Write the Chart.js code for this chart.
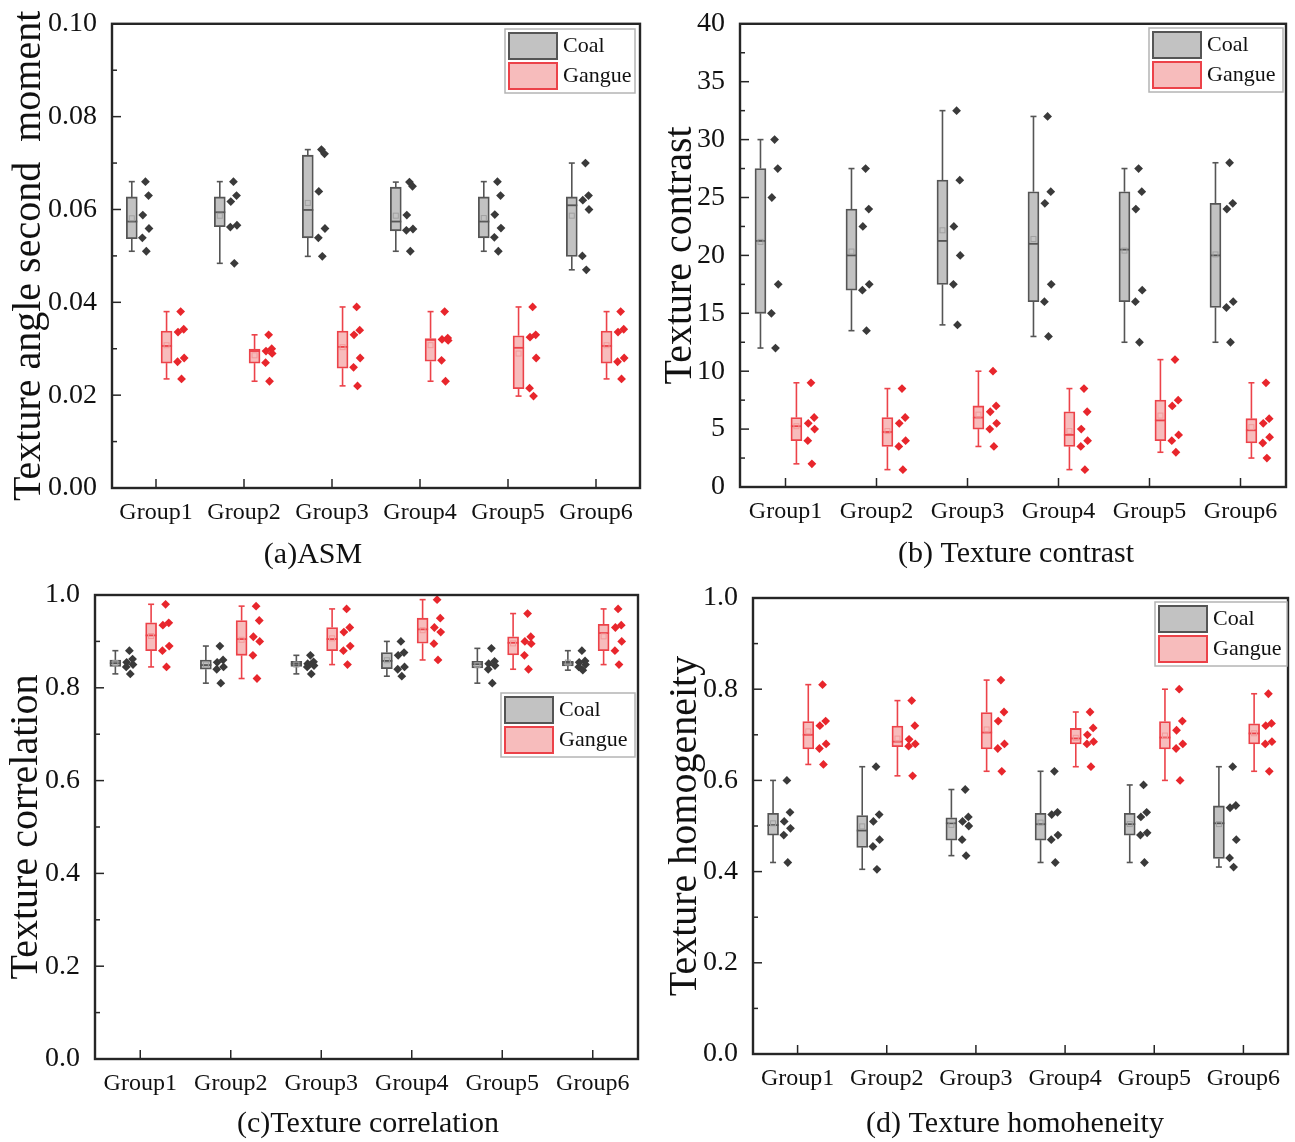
<!DOCTYPE html>
<html><head><meta charset="utf-8">
<script src="https://cdn.jsdelivr.net/npm/chart.js@4.4.1/dist/chart.umd.min.js"></script>
<style>
html,body{margin:0;padding:0;background:#fff;}
#wrap{position:relative;width:1295px;height:1142px;overflow:hidden;background:#fff;}
canvas{position:absolute;}
</style></head><body><div id="wrap">
<canvas id="cA"></canvas><canvas id="cB"></canvas><canvas id="cC"></canvas><canvas id="cD"></canvas>
</div>
<script>
// ---------------- DATA ----------------
const GROUPS = ['Group1','Group2','Group3','Group4','Group5','Group6'];
const SERIES_NAMES = ['Coal','Gangue'];

// (a) ASM
const ASM_TICKS = ['0.00','0.02','0.04','0.06','0.08','0.10'];
const ASM_COAL_POINTS = [
  [0.066,0.063,0.0588,0.0559,0.0539,0.051],
  [0.066,0.063,0.0617,0.0566,0.0562,0.0484],
  [0.0729,0.072,0.0639,0.0559,0.0539,0.0499],
  [0.0659,0.065,0.0588,0.0558,0.0555,0.051],
  [0.066,0.063,0.0589,0.056,0.054,0.051],
  [0.070,0.063,0.062,0.060,0.050,0.047]];
const ASM_COAL_BOX = [[0.0537,0.0574,0.0627],[0.0563,0.0594,0.0627],[0.0539,0.0599,0.0717],[0.0554,0.0574,0.0648],[0.0539,0.0574,0.0627],[0.0499,0.0609,0.0627]];
const ASM_GANGUE_POINTS = [
  [0.038,0.0342,0.0336,0.028,0.0272,0.0235],
  [0.033,0.030,0.0295,0.029,0.027,0.023],
  [0.039,0.034,0.033,0.028,0.026,0.022],
  [0.038,0.0323,0.032,0.0318,0.0275,0.023],
  [0.039,0.033,0.0325,0.028,0.0215,0.0198],
  [0.038,0.0342,0.0336,0.028,0.0272,0.0235]];
const ASM_GANGUE_BOX = [[0.0269,0.0306,0.0338],[0.0269,0.0295,0.0299],[0.0258,0.0304,0.0338],[0.0273,0.0319,0.0322],[0.0214,0.0302,0.0328],[0.0269,0.0306,0.0338]];

// (b) Texture contrast
const CON_TICKS = ['0','5','10','15','20','25','30','35','40'];
const CON_COAL_POINTS = [
  [30,27.5,25,17.5,15,12],
  [27.5,24,22.5,17.5,17,13.5],
  [32.5,26.5,22.5,20,17.5,14],
  [32,25.5,24.5,17.5,16,13],
  [27.5,25.5,24,17,16,12.5],
  [28,24.5,24,16,15.5,12.5]];
const CON_COAL_BOX = [[15,21.25,27.5],[17,20,24],[17.5,21.25,26.5],[16,21,25.5],[16,20.5,25.5],[15.5,20,24.5]];
const CON_GANGUE_POINTS = [
  [9,6,5.5,5,4,2],
  [8.5,6,5.5,4,3.5,1.5],
  [10,7,6.5,5.5,5,3.5],
  [8.5,6.5,5,4,3.5,1.5],
  [11,7.5,7,4.5,4,3],
  [9,5.9,5.5,4.3,3.8,2.5]];
const CON_GANGUE_BOX = [[4,5.25,6],[3.5,4.75,6],[5,6,7],[3.5,4.5,6.5],[4,5.75,7.5],[3.8,4.9,5.9]];

// (c) Texture correlation
const COR_TICKS = ['0.0','0.2','0.4','0.6','0.8','1.0'];
const COR_COAL_POINTS = [
  [0.88,0.862,0.855,0.85,0.845,0.83],
  [0.89,0.86,0.855,0.845,0.84,0.81],
  [0.87,0.856,0.852,0.848,0.845,0.83],
  [0.90,0.876,0.87,0.845,0.84,0.825],
  [0.885,0.857,0.852,0.848,0.84,0.81],
  [0.88,0.858,0.855,0.85,0.845,0.838]];
const COR_COAL_BOX = [[0.846,0.853,0.860],[0.840,0.849,0.860],[0.846,0.8516,0.857],[0.841,0.858,0.876],[0.843,0.851,0.857],[0.847,0.854,0.857]];
const COR_GANGUE_POINTS = [
  [0.98,0.94,0.935,0.89,0.88,0.845],
  [0.976,0.945,0.91,0.90,0.87,0.82],
  [0.97,0.93,0.92,0.89,0.88,0.85],
  [0.99,0.95,0.93,0.92,0.895,0.86],
  [0.96,0.91,0.90,0.895,0.87,0.84],
  [0.97,0.935,0.93,0.90,0.88,0.85]];
const COR_GANGUE_BOX = [[0.880,0.913,0.940],[0.870,0.905,0.945],[0.880,0.905,0.930],[0.896,0.926,0.950],[0.871,0.897,0.910],[0.880,0.918,0.937]];

// (d) Texture homogeneity
const HOM_TICKS = ['0.0','0.2','0.4','0.6','0.8','1.0'];
const HOM_COAL_POINTS = [
  [0.60,0.53,0.51,0.495,0.48,0.42],
  [0.63,0.525,0.51,0.47,0.455,0.405],
  [0.58,0.52,0.51,0.50,0.47,0.435],
  [0.62,0.53,0.525,0.48,0.47,0.42],
  [0.59,0.53,0.52,0.485,0.48,0.42],
  [0.63,0.545,0.54,0.47,0.43,0.41]];
const HOM_COAL_BOX = [[0.480,0.502,0.528],[0.453,0.490,0.523],[0.469,0.506,0.518],[0.469,0.504,0.528],[0.480,0.504,0.528],[0.429,0.506,0.544]];
const HOM_GANGUE_POINTS = [
  [0.81,0.73,0.72,0.68,0.67,0.635],
  [0.775,0.72,0.69,0.68,0.675,0.61],
  [0.82,0.75,0.73,0.68,0.67,0.62],
  [0.75,0.715,0.70,0.685,0.68,0.63],
  [0.80,0.73,0.71,0.68,0.67,0.60],
  [0.79,0.725,0.72,0.685,0.68,0.62]];
const HOM_GANGUE_BOX = [[0.669,0.700,0.729],[0.674,0.685,0.719],[0.669,0.705,0.749],[0.680,0.692,0.714],[0.669,0.694,0.729],[0.680,0.703,0.724]];

// ---------------- STYLE ----------------
const FONT = "'Liberation Serif','Times New Roman',serif";
const TXT = '#111111';
const STYLE = [
  {fill:'#c2c2c2', edge:'#555555', dot:'#3a3a3a', mean:'#a0a0a0'},
  {fill:'#f7bcbc', edge:'#ec4249', dot:'#e8262c', mean:'#f29a9a'}
];
const BOX_OFF = [-0.275, 0.12];
const DOT_OFF = [-0.12, 0.28];
const JITTER = [0.0, 0.035, -0.03, 0.04, -0.035, 0.01];
const BOX_W = 11, CAP_W = 6;
const MAJOR = 9, MINOR = 5;

Chart.defaults.font.family = FONT;
Chart.defaults.color = TXT;

function line(ctx,x1,y1,x2,y2){ctx.beginPath();ctx.moveTo(x1,y1);ctx.lineTo(x2,y2);ctx.stroke();}

const framePlugin = { id:'frame', afterDraw(chart){
  const {ctx, chartArea:a, scales:{x,y}} = chart;
  ctx.save();
  ctx.strokeStyle = '#262626'; ctx.lineWidth = 1.5;
  const yt = y.ticks.map(t=>t.value);
  yt.forEach(v=>{const py=y.getPixelForValue(v); line(ctx,a.left,py,a.left+MAJOR,py);});
  for(let i=0;i<yt.length-1;i++){const py=y.getPixelForValue((yt[i]+yt[i+1])/2); line(ctx,a.left,py,a.left+MINOR,py);}
  x.ticks.forEach(t=>{const px=x.getPixelForValue(t.value); line(ctx,px,a.bottom,px,a.bottom-MAJOR);});
  ctx.lineWidth = 2.4;
  ctx.strokeRect(a.left,a.top,a.right-a.left,a.bottom-a.top);
  ctx.restore();
}};

const boxPlugin = { id:'boxes',
  beforeDatasetsDraw(chart,args,opts){
    const {ctx, scales:{x,y}} = chart;
    ctx.save(); ctx.lineWidth = 1.6;
    opts.series.forEach((s,si)=>{
      ctx.strokeStyle = STYLE[si].edge;
      s.points.forEach((pts,i)=>{
        const cx = x.getPixelForValue(i+1+BOX_OFF[si]);
        const hi = y.getPixelForValue(Math.max(...pts)), lo = y.getPixelForValue(Math.min(...pts));
        const q1 = y.getPixelForValue(s.box[i][0]), q3 = y.getPixelForValue(s.box[i][2]);
        line(ctx,cx,q3,cx,hi); line(ctx,cx,q1,cx,lo);
        line(ctx,cx-CAP_W/2,hi,cx+CAP_W/2,hi); line(ctx,cx-CAP_W/2,lo,cx+CAP_W/2,lo);
      });
    });
    ctx.restore();
  },
  afterDatasetsDraw(chart,args,opts){
    const {ctx, scales:{x,y}} = chart;
    ctx.save();
    opts.series.forEach((s,si)=>{
      s.points.forEach((pts,i)=>{
        const cx = x.getPixelForValue(i+1+BOX_OFF[si]);
        const med = y.getPixelForValue(s.box[i][1]);
        ctx.strokeStyle = STYLE[si].edge; ctx.lineWidth = 1.8;
        line(ctx,cx-BOX_W/2,med,cx+BOX_W/2,med);
        const mean = pts.reduce((p,q)=>p+q,0)/pts.length;
        const my = y.getPixelForValue(mean);
        ctx.strokeStyle = STYLE[si].mean; ctx.lineWidth = 1;
        ctx.strokeRect(cx-2.5,my-2.5,5,5);
      });
    });
    ctx.restore();
  }
};

const legendPlugin = { id:'boxLegend', afterDraw(chart,args,o){
  const ctx = chart.ctx;
  ctx.save();
  ctx.fillStyle = '#fff'; ctx.fillRect(o.l,o.t,o.w,o.h);
  ctx.strokeStyle = '#b4b4b4'; ctx.lineWidth = 1.5; ctx.strokeRect(o.l,o.t,o.w,o.h);
  SERIES_NAMES.forEach((name,i)=>{
    const py = o.t + 4 + i*30;
    ctx.fillStyle = STYLE[i].fill; ctx.fillRect(o.l+4,py,48,26);
    ctx.strokeStyle = STYLE[i].edge; ctx.lineWidth = 2; ctx.strokeRect(o.l+4,py,48,26);
    ctx.fillStyle = TXT; ctx.font = '22px '+FONT; ctx.textBaseline='middle'; ctx.textAlign='left';
    ctx.fillText(name, o.l+58, py+13);
  });
  ctx.restore();
}};

const captionPlugin = { id:'caption', afterDraw(chart,args,o){
  const ctx = chart.ctx;
  ctx.save(); ctx.fillStyle = TXT; ctx.font = '30px '+FONT;
  ctx.textAlign='center'; ctx.textBaseline='middle';
  ctx.fillText(o.text, o.x, o.y);
  ctx.restore();
}};

const PANELS = [
  {id:'cA', canvas:{l:0,t:0,w:650,h:580}, plot:{l:112,t:22,r:640,b:488}, ticks:ASM_TICKS,
   title:'Texture angle second  moment', titlePad:5, caption:'(a)ASM', capX:313, capY:555,
   legend:{l:505,t:29,w:130,h:64},
   series:[{points:ASM_COAL_POINTS, box:ASM_COAL_BOX},{points:ASM_GANGUE_POINTS, box:ASM_GANGUE_BOX}]},
  {id:'cB', canvas:{l:650,t:0,w:645,h:580}, plot:{l:740,t:21,r:1286,b:487}, ticks:CON_TICKS,
   title:'Texture contrast', titlePad:6, caption:'(b) Texture contrast', capX:1016, capY:554,
   legend:{l:1149,t:28,w:134,h:64},
   series:[{points:CON_COAL_POINTS, box:CON_COAL_BOX},{points:CON_GANGUE_POINTS, box:CON_GANGUE_BOX}]},
  {id:'cC', canvas:{l:0,t:570,w:650,h:572}, plot:{l:95,t:595,r:638,b:1059}, ticks:COR_TICKS,
   title:'Texture correlation', titlePad:2, caption:'(c)Texture correlation', capX:368, capY:1124,
   legend:{l:501,t:693,w:134,h:64},
   series:[{points:COR_COAL_POINTS, box:COR_COAL_BOX},{points:COR_GANGUE_POINTS, box:COR_GANGUE_BOX}]},
  {id:'cD', canvas:{l:650,t:570,w:645,h:572}, plot:{l:753,t:598,r:1288,b:1054}, ticks:HOM_TICKS,
   title:'Texture homogeneity', titlePad:11, caption:'(d) Texture homoheneity', capX:1015, capY:1124,
   legend:{l:1155,t:602,w:132,h:64},
   series:[{points:HOM_COAL_POINTS, box:HOM_COAL_BOX},{points:HOM_GANGUE_POINTS, box:HOM_GANGUE_BOX}]}
];

function makeChart(cfg){
  const cv = document.getElementById(cfg.id);
  const c = cfg.canvas, p = cfg.plot;
  cv.width = c.w; cv.height = c.h;
  Object.assign(cv.style,{left:c.l+'px',top:c.t+'px',width:c.w+'px',height:c.h+'px'});
  const tickVals = cfg.ticks.map(Number);
  const datasets = [];
  cfg.series.forEach((s,si)=>{
    datasets.push({type:'bar', label:SERIES_NAMES[si],
      data:s.box.map((b,i)=>({x:i+1+BOX_OFF[si], y:[b[0],b[2]]})),
      backgroundColor:STYLE[si].fill, borderColor:STYLE[si].edge, borderWidth:1.8,
      borderSkipped:false, barThickness:BOX_W, grouped:false});
  });
  cfg.series.forEach((s,si)=>{
    const pts = [];
    s.points.forEach((arr,i)=>arr.forEach((v,j)=>pts.push({x:i+1+DOT_OFF[si]+JITTER[j], y:v})));
    datasets.push({type:'scatter', label:SERIES_NAMES[si]+' data', data:pts, pointStyle:'rectRot',
      pointRadius:4.4, backgroundColor:STYLE[si].dot, borderColor:STYLE[si].dot, borderWidth:0, showLine:false});
  });
  new Chart(cv, {
    type:'bar', data:{datasets},
    options:{
      responsive:false, animation:false, events:[],
      layout:{padding:{left:0, top:p.t-c.t, right:c.l+c.w-p.r, bottom:0}},
      scales:{
        x:{type:'linear', offset:false, bounds:'ticks', min:0.5, max:6.5, grid:{display:false, offset:false}, border:{display:false},
           afterBuildTicks:s=>{s.ticks = GROUPS.map((g,i)=>({value:i+1}));},
           ticks:{callback:(v)=>GROUPS[Math.round(v)-1] || '', font:{size:24, family:FONT}, color:TXT, padding:2, maxRotation:0, autoSkip:false},
           afterFit:s=>{s.height = c.t+c.h-p.b;}},
        y:{type:'linear', min:tickVals[0], max:tickVals[tickVals.length-1], grid:{display:false}, border:{display:false},
           afterBuildTicks:s=>{s.ticks = tickVals.map(v=>({value:v}));},
           ticks:{callback:(v,i)=>cfg.ticks[i], font:{size:28, family:FONT}, color:TXT, padding:7},
           title:{display:true, text:cfg.title, font:{size:40, family:FONT}, color:TXT, padding:{top:cfg.titlePad,bottom:0}},
           afterFit:s=>{s.width = p.l-c.l;}}
      },
      plugins:{
        legend:{display:false}, tooltip:{enabled:false},
        boxes:{series:cfg.series},
        boxLegend:{l:cfg.legend.l-c.l, t:cfg.legend.t-c.t, w:cfg.legend.w, h:cfg.legend.h},
        caption:{text:cfg.caption, x:cfg.capX-c.l, y:cfg.capY-c.t}
      }
    },
    plugins:[boxPlugin, framePlugin, legendPlugin, captionPlugin]
  });
}
PANELS.forEach(makeChart);
</script></body></html>
